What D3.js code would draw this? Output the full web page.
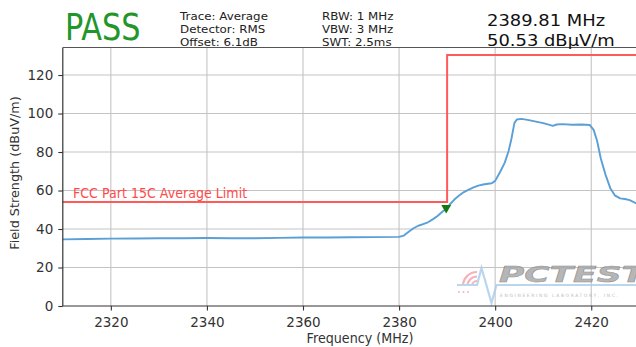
<!DOCTYPE html>
<html>
<head>
<meta charset="utf-8">
<script src="https://cdn.jsdelivr.net/npm/d3@7"></script>
<style>
  html, body { margin: 0; padding: 0; background: #fff; overflow: hidden; }
  svg { display: block; font-family: "DejaVu Sans", sans-serif; }
</style>
</head>
<body>
<svg id="chart" width="636" height="347"></svg>
<script>
// Measured trace (average detector, RMS), frequency in MHz
const traceFreq = [2310, 2315, 2320, 2325, 2330, 2335, 2340, 2345, 2350, 2355, 2360, 2365, 2370, 2375, 2380,
  2381, 2382, 2383, 2384, 2385, 2386, 2387, 2388, 2389, 2389.81, 2390.5, 2391.5, 2392.5, 2393.5, 2394.5,
  2395.5, 2396.5, 2397.5, 2398.5, 2399.3, 2400, 2401, 2402, 2402.8, 2403.4, 2404, 2404.5, 2405.5, 2407,
  2408.5, 2410, 2411.5, 2412, 2412.8, 2414, 2416, 2418, 2419.7, 2420.5, 2421.2, 2422, 2423, 2424, 2424.9,
  2426, 2427, 2428, 2429.3, 2431, 2433.5];
// Field strength in dBuV/m
const traceLevel = [34.6, 34.8, 35.0, 35.1, 35.2, 35.2, 35.3, 35.2, 35.2, 35.4, 35.6, 35.6, 35.7, 35.8, 35.9,
  36.6, 38.6, 40.4, 41.7, 42.5, 43.5, 45.0, 46.8, 49.0, 50.53, 52.6, 55.3, 57.4, 59.2, 60.5,
  61.6, 62.5, 63.1, 63.5, 63.8, 65.0, 69.5, 74.5, 80.5, 87.0, 95.0, 96.9, 97.2, 96.6,
  95.8, 95.0, 94.0, 93.6, 94.3, 94.5, 94.2, 94.3, 94.0, 91.5, 86.0, 76.5, 68.0, 61.0, 57.5,
  55.9, 55.6, 55.0, 53.4, 52.3, 51.0];

// FCC Part 15C average limit (step at the restricted band edge)
const limitFreq = [2310, 2390, 2390, 2433.5];
const limitLevel = [54, 54, 130.4, 130.4];
const limitLabel = "FCC Part 15C Average Limit";

// Marker readout
const markerFreq = 2389.81;
const markerLevel = 50.53;
const markerText = ["2389.81 MHz", "50.53 dBµV/m"];

// Header
const verdict = "PASS";
const settingsCol1 = ["Trace: Average", "Detector: RMS", "Offset: 6.1dB"];
const settingsCol2 = ["RBW: 1 MHz", "VBW: 3 MHz", "SWT: 2.5ms"];

// Axes
const xTicks = [2320, 2340, 2360, 2380, 2400, 2420];
const yTicks = [0, 20, 40, 60, 80, 100, 120];
const xTitle = "Frequency (MHz)";
const yTitle = "Field Strength (dBuV/m)";

const svg = d3.select("#chart");
const plot = { left: 62.8, right: 656.1, top: 47.5, bottom: 306 };

const x = d3.scaleLinear().domain([2310, 2433.5]).range([plot.left, plot.right]);
const y = d3.scaleLinear().domain([0, 134.3]).range([plot.bottom, plot.top]);

// Text helper with horizontal scaling
function label(g, px, py, str, size, sx, anchor, fill) {
  return g.append("text")
    .attr("transform", `translate(${px},${py}) scale(${sx},1)`)
    .attr("font-size", size)
    .attr("text-anchor", anchor || "start")
    .attr("fill", fill || "#222")
    .text(str);
}

// Grid
const grid = svg.append("g");
grid.selectAll("line.gx").data(xTicks).join("line")
  .attr("x1", d => x(d)).attr("x2", d => x(d))
  .attr("y1", plot.top).attr("y2", plot.bottom)
  .attr("stroke", "#c4c4c4").attr("stroke-width", 1.1);
grid.selectAll("line.gy").data(yTicks.filter(d => d > 0)).join("line")
  .attr("x1", plot.left).attr("x2", plot.right)
  .attr("y1", d => y(d)).attr("y2", d => y(d))
  .attr("stroke", "#c4c4c4").attr("stroke-width", 1.1);

// Watermark logo
const logo = svg.append("g").attr("opacity", 0.8);
[5, 9.5, 14].forEach(r => {
  const arc = d3.arc().innerRadius(r - 1.1).outerRadius(r + 1.1)
    .startAngle(-Math.PI / 2).endAngle(0);
  logo.append("path").attr("d", arc()).attr("transform", "translate(477,286)").attr("fill", "#f4a0a8");
});
[459, 463.5, 468].forEach(cx => logo.append("circle").attr("cx", cx).attr("cy", 292).attr("r", 1).attr("fill", "#f4a0a8"));
logo.append("path")
  .attr("d", "M457,285 L477,285 L481.5,268 L491.5,303 L496.5,285 L640,285")
  .attr("fill", "none").attr("stroke", "#a9cdeb").attr("stroke-width", 2.2);
logo.append("text")
  .attr("x", 499).attr("y", 282)
  .attr("font-size", 21).attr("font-weight", "bold").attr("font-style", "italic")
  .attr("textLength", 146).attr("lengthAdjust", "spacingAndGlyphs")
  .attr("fill", "#a4a4a4").attr("stroke", "#7a7a7a").attr("stroke-width", 0.5)
  .text("PCTEST");
logo.append("text")
  .attr("x", 500).attr("y", 297)
  .attr("font-size", 4.5).attr("letter-spacing", 1.6)
  .attr("fill", "#b0b0b0")
  .text("ENGINEERING LABORATORY, INC.");

// Limit line
const line = d3.line().x(d => x(d[0])).y(d => y(d[1]));
svg.append("path")
  .datum(d3.zip(limitFreq, limitLevel))
  .attr("d", line)
  .attr("fill", "none").attr("stroke", "#ff5a5a").attr("stroke-width", 2);

label(svg, 73, 198, limitLabel, 13.6, 0.93, "start", "#ff4a4a");

// Trace
svg.append("path")
  .datum(d3.zip(traceFreq, traceLevel))
  .attr("d", line)
  .attr("fill", "none").attr("stroke", "#5a9fd6").attr("stroke-width", 1.9)
  .attr("stroke-linejoin", "round");

// Marker
svg.append("path")
  .attr("d", d3.symbol().type(d3.symbolTriangle).size(42)())
  .attr("transform", `translate(${x(markerFreq)},${y(markerLevel) - 1}) rotate(180)`)
  .attr("fill", "#137a13");

// Axes
const xAxis = svg.append("g")
  .attr("transform", `translate(0,${plot.bottom})`)
  .call(d3.axisBottom(x).tickValues(xTicks).tickSize(4.5).tickPadding(5).tickFormat(d3.format("d")));
const yAxis = svg.append("g")
  .attr("transform", `translate(${plot.left},0)`)
  .call(d3.axisLeft(y).tickValues(yTicks).tickSize(4.5).tickPadding(5).tickFormat(d3.format("d")));
[xAxis, yAxis].forEach(a => {
  a.select(".domain").remove();
  a.selectAll(".tick line").attr("stroke", "#333").attr("stroke-width", 1.1);
  a.selectAll(".tick text").attr("font-size", 13.5).attr("fill", "#333")
    .attr("font-family", "DejaVu Sans, sans-serif");
});
xAxis.selectAll(".tick text").attr("dy", "0.85em");

// Spines: left, bottom, top
svg.append("line").attr("x1", plot.left).attr("x2", plot.left).attr("y1", plot.top).attr("y2", plot.bottom)
  .attr("stroke", "#333").attr("stroke-width", 1.2);
svg.append("line").attr("x1", plot.left).attr("x2", 636).attr("y1", plot.bottom).attr("y2", plot.bottom)
  .attr("stroke", "#333").attr("stroke-width", 1.2);
svg.append("line").attr("x1", plot.left).attr("x2", 636).attr("y1", plot.top).attr("y2", plot.top)
  .attr("stroke", "#555").attr("stroke-width", 1.2);

// Axis titles
label(svg, 360, 343, xTitle, 13.4, 0.95, "middle", "#333");
svg.append("text")
  .attr("transform", "translate(19,173) rotate(-90)")
  .attr("font-size", 12.8).attr("text-anchor", "middle").attr("fill", "#333")
  .text(yTitle);

// Header
label(svg, 65, 40, verdict, 37, 0.82, "start", "#22962a");
settingsCol1.forEach((t, i) => label(svg, 180, 19.8 + i * 13.1, t, 11.2, 1.06, "start", "#222"));
settingsCol2.forEach((t, i) => label(svg, 322, 19.8 + i * 13.1, t, 11.2, 1.06, "start", "#222"));
markerText.forEach((t, i) => label(svg, 487, 26.3 + i * 19.4, t, 16.6, 1.08, "start", "#111"));
</script>
</body>
</html>
